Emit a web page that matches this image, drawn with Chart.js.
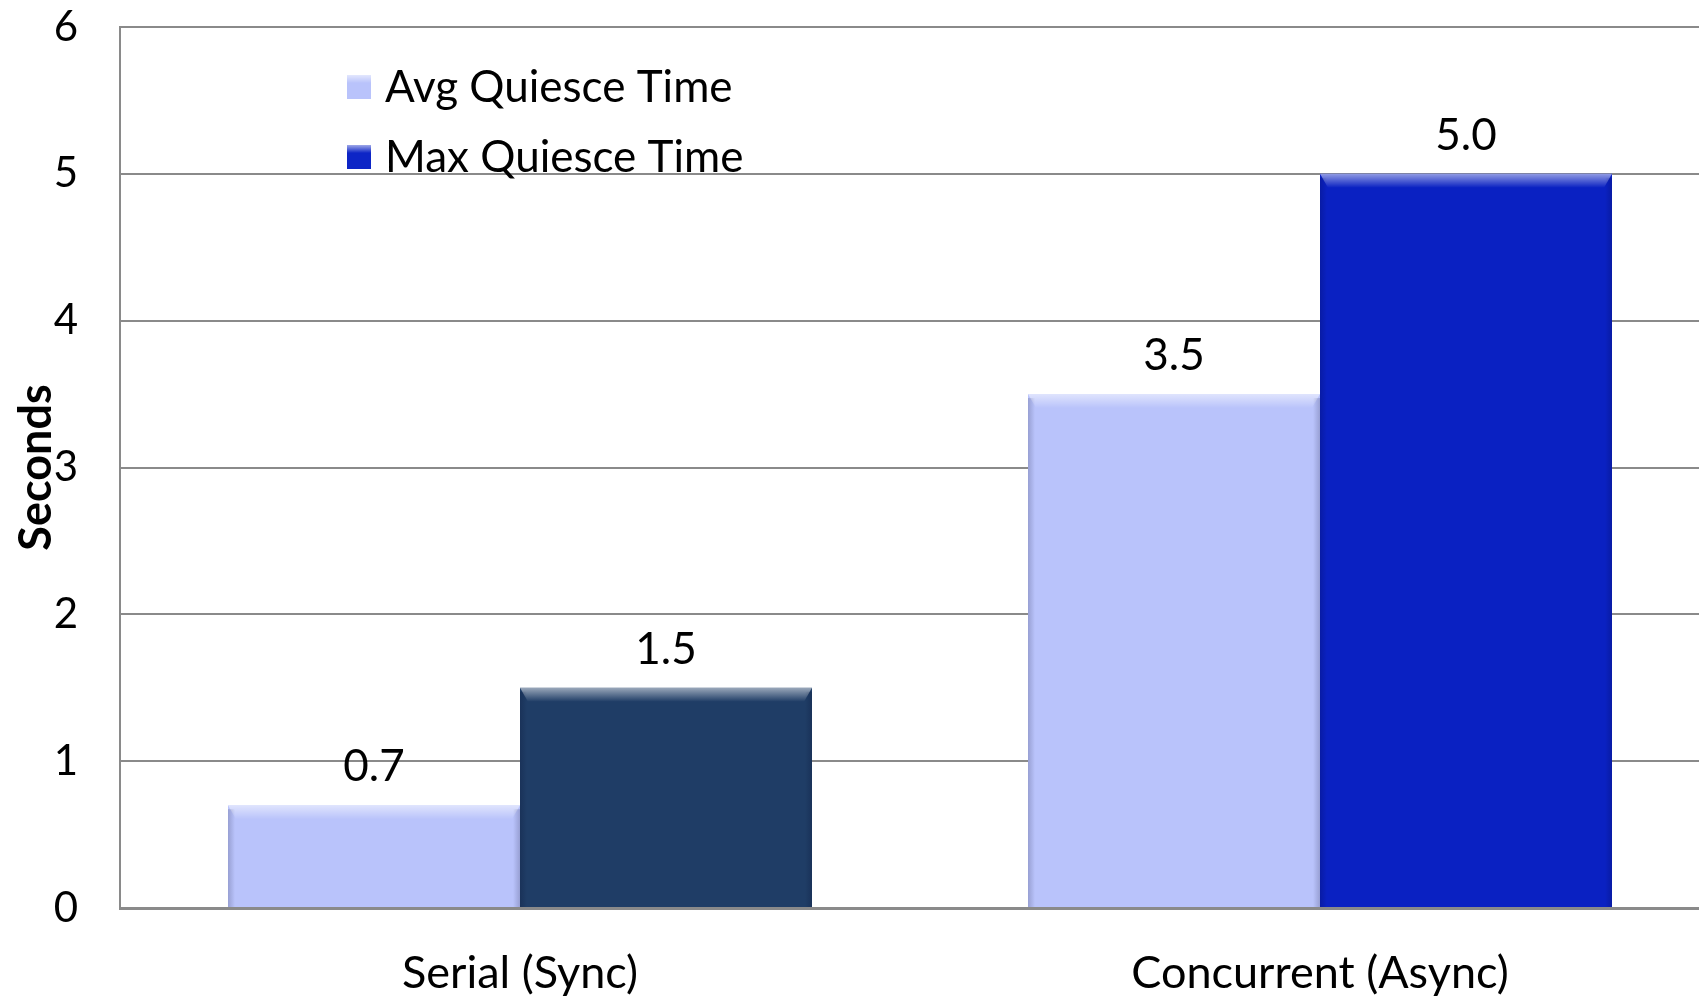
<!DOCTYPE html>
<html>
<head>
<meta charset="utf-8">
<script src="https://cdn.jsdelivr.net/npm/chart.js@4/dist/chart.umd.min.js"></script>
<style>
  html, body { margin: 0; padding: 0; background: #ffffff; overflow: hidden; width: 1699px; height: 998px; }
  #wrap { width: 1730px; height: 998px; }
  canvas { display: block; }
</style>
</head>
<body>
<div id="wrap"><canvas id="c" width="1730" height="998" style="width:1730px;height:998px"></canvas></div>
<script>
const categories = ['Serial (Sync)', 'Concurrent (Async)'];
const seriesNames = ['Avg Quiesce Time', 'Max Quiesce Time'];
const avgValues = [0.7, 3.5];
const maxValues = [1.5, 5.0];
const yTicks = [0, 1, 2, 3, 4, 5, 6];
const yTitle = 'Seconds';

const FONT = 'Lato, "Open Sans", sans-serif';
const avgColor = '#b9c3fb';
const maxColors = ['#1f3d66', '#0a21c2'];
const legendColors = ['#b9c3fb', '#0d25c6'];

const overlays = {
  id: 'overlays',
  afterDatasetsDraw(chart) {
    const ctx = chart.ctx;
    const area = chart.chartArea;
    chart.data.datasets.forEach((ds, di) => {
      const meta = chart.getDatasetMeta(di);
      meta.data.forEach((el) => {
        const w = el.width, left = el.x - w / 2, top = el.y, bottom = el.base;
        ctx.save();
        let g = ctx.createLinearGradient(0, top, 0, top + 14);
        g.addColorStop(0, 'rgba(255,255,255,0.55)');
        g.addColorStop(1, 'rgba(255,255,255,0)');
        ctx.fillStyle = g;
        ctx.beginPath();
        ctx.moveTo(left, top); ctx.lineTo(left + w, top);
        ctx.lineTo(left + w - 8, top + 14); ctx.lineTo(left + 8, top + 14);
        ctx.closePath(); ctx.fill();
        g = ctx.createLinearGradient(left, 0, left + 7, 0);
        g.addColorStop(0, 'rgba(0,0,30,0.18)');
        g.addColorStop(1, 'rgba(0,0,30,0)');
        ctx.fillStyle = g;
        ctx.fillRect(left, top + 4, 7, bottom - top - 4);
        g = ctx.createLinearGradient(left + w - 7, 0, left + w, 0);
        g.addColorStop(0, 'rgba(0,0,30,0)');
        g.addColorStop(1, 'rgba(0,0,30,0.18)');
        ctx.fillStyle = g;
        ctx.fillRect(left + w - 7, top + 4, 7, bottom - top - 4);
        ctx.restore();
      });
    });
    ctx.save();
    ctx.fillStyle = '#000';
    ctx.font = '44px ' + FONT;
    ctx.textAlign = 'center';
    ctx.textBaseline = 'middle';
    chart.data.datasets.forEach((ds, di) => {
      const meta = chart.getDatasetMeta(di);
      meta.data.forEach((el, i) => {
        ctx.fillText(Number(ds.data[i]).toFixed(1), el.x, el.y - 38);
      });
    });
    ctx.font = 'bold 45px ' + FONT;
    ctx.translate(36, (area.top + area.bottom) / 2);
    ctx.rotate(-Math.PI / 2);
    ctx.fillText(yTitle, 0, 0);
    ctx.restore();
    ctx.save();
    ctx.font = '44px ' + FONT;
    ctx.textAlign = 'left';
    ctx.textBaseline = 'middle';
    chart.data.datasets.forEach((ds, di) => {
      const cy = 87 + di * 70;
      const bx = 347, bs = 24;
      ctx.fillStyle = legendColors[di];
      ctx.fillRect(bx, cy - bs / 2, bs, bs);
      const g = ctx.createLinearGradient(0, cy - bs / 2, 0, cy - bs / 2 + 8);
      g.addColorStop(0, 'rgba(255,255,255,0.6)');
      g.addColorStop(1, 'rgba(255,255,255,0)');
      ctx.fillStyle = g;
      ctx.fillRect(bx, cy - bs / 2, bs, 8);
      ctx.fillStyle = '#000';
      ctx.fillText(ds.label, 385, cy + 1);
    });
    ctx.restore();
  }
};

new Chart(document.getElementById('c'), {
  type: 'bar',
  data: {
    labels: categories,
    datasets: [
      { label: seriesNames[0], data: avgValues, backgroundColor: avgColor, borderWidth: 0 },
      { label: seriesNames[1], data: maxValues, backgroundColor: maxColors, borderWidth: 0 }
    ]
  },
  options: {
    responsive: false,
    animation: false,
    devicePixelRatio: 1,
    layout: { padding: { top: 27, right: 10, left: 0, bottom: 0 } },
    datasets: { bar: { categoryPercentage: 0.73, barPercentage: 1.0 } },
    plugins: { legend: { display: false }, tooltip: { enabled: false } },
    scales: {
      x: {
        grid: { display: false, drawTicks: false },
        border: { display: true, color: '#8a8a8a', width: 3 },
        ticks: { color: '#000', font: { family: FONT, size: 45 }, padding: 38 },
        afterFit(scale) { scale.height = 90; scale.paddingLeft = 0; scale.paddingRight = 0; }
      },
      y: {
        min: 0, max: 6,
        afterBuildTicks(scale) { scale.ticks = yTicks.map(v => ({ value: v })); },
        grid: { color: '#8a8a8a', lineWidth: 2, drawTicks: false },
        border: { display: true, color: '#8a8a8a', width: 2 },
        ticks: { color: '#000', font: { family: FONT, size: 42 }, padding: 42 },
        afterFit(scale) { scale.width = 120; scale.paddingTop = 0; scale.paddingBottom = 0; }
      }
    }
  },
  plugins: [overlays]
});
</script>
</body>
</html>
